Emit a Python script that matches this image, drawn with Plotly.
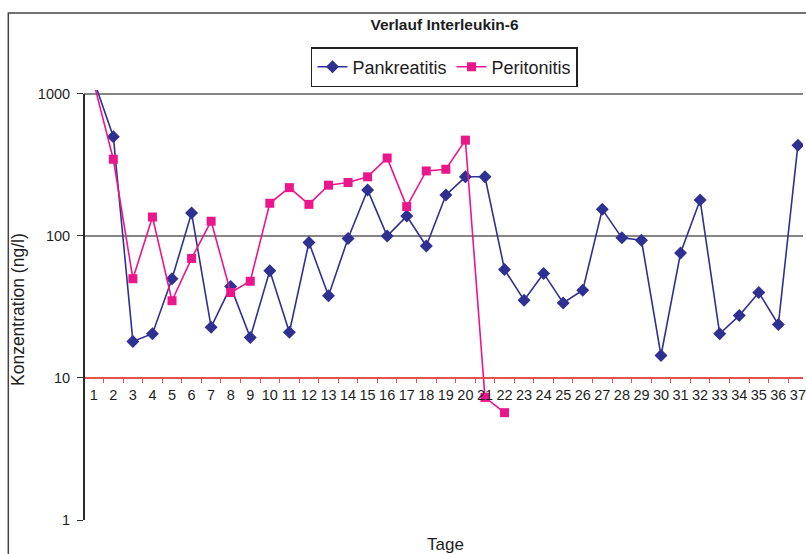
import plotly.graph_objects as go

# Tage 1..37
days = [str(d) for d in range(1, 38)]

# Interleukin-6 Konzentration (ng/l)
pankreatitis = [1250, 500, 18.1, 20.5, 50, 145, 22.8, 44, 19.3, 57, 21, 90,
                38, 96, 211, 100, 138, 85, 194, 261, 261, 58, 35.3, 54.5,
                33.8, 41.5, 154, 97, 93.5, 14.4, 76, 179, 20.5, 27.5, 40,
                23.8, 436]
peritonitis = [1200, 347, 50, 136, 35, 69.5, 127, 40, 48, 170, 219, 167,
               228, 238, 261, 354, 161, 287, 295, 473, 7.3, 5.7]

y_ticks = [1, 10, 100, 1000]
y_ticktext = ["1", "10", "100", "1000"]

FONT = "Liberation Sans, Arial, sans-serif"
TEXT = "#1e1e1e"
BLUE = "#2e3192"
PINK = "#ec168c"
RED = "#e4504c"

y_top = 3.028  # log10 upper limit of the value axis

fig = go.Figure()
fig.add_trace(go.Scatter(
    x=days, y=pankreatitis, name="Pankreatitis", mode="lines+markers",
    line=dict(color=BLUE, width=1.6),
    marker=dict(symbol="diamond", size=10, color=BLUE),
))
fig.add_trace(go.Scatter(
    x=days[:len(peritonitis)], y=peritonitis, name="Peritonitis",
    mode="lines+markers",
    line=dict(color=PINK, width=1.6),
    marker=dict(symbol="square", size=9, color=PINK),
))

fig.update_layout(
    width=806, height=554,
    margin=dict(l=84, r=0, t=90, b=34),
    paper_bgcolor="white", plot_bgcolor="white",
    font=dict(family=FONT, size=14, color=TEXT),
    title=dict(text="<b>Verlauf Interleukin-6</b>", x=(446 - 84) / 722,
               xref="paper", xanchor="center",
               y=1 - 25 / 554, yref="container", yanchor="middle",
               font=dict(size=15.5, color=TEXT)),
    legend=dict(orientation="h", x=(446 - 84) / 722, xanchor="center",
                y=(520 - 47) / 430, yanchor="top",
                bordercolor="#222", borderwidth=1.5,
                bgcolor="white", font=dict(size=18, color=TEXT)),
    showlegend=True,
)

fig.update_xaxes(
    type="category", categoryorder="array", categoryarray=days,
    range=[-0.5, 36.26], anchor="free", position=1 / y_top,
    showline=True, linecolor=RED, linewidth=1.5,
    showgrid=False, zeroline=False,
    tickson="boundaries", ticks="outside", ticklen=4, tickwidth=1.2,
    tickcolor=RED, tickangle=0, tickfont=dict(size=14.5, color=TEXT),
    ticklabelstandoff=4,
)
fig.update_yaxes(
    type="log", range=[0, y_top], tickvals=y_ticks, ticktext=y_ticktext,
    showgrid=True, gridcolor="#858585", gridwidth=1.5,
    showline=False, zeroline=False,
    ticks="outside", ticklen=6, tickwidth=1.2, tickcolor="#333",
    tickfont=dict(size=14.5, color=TEXT), ticklabelstandoff=4,
)

# left value axis from 1 to 1000
fig.add_shape(type="line", xref="paper", yref="paper",
              x0=0, x1=0, y0=0, y1=3 / y_top,
              line=dict(color="#2a2a2a", width=2))
# chart frame
fig.add_shape(type="rect", xref="paper", yref="paper",
              x0=(8 - 84) / 722, x1=1.02, y0=-0.1, y1=(520 - 13) / 430,
              line=dict(color="#444", width=1.5), fillcolor="rgba(0,0,0,0)")

fig.add_annotation(text="Konzentration (ng/l)", textangle=-90,
                   xref="paper", yref="paper", x=0, y=(520 - 310) / 430,
                   xshift=-66, xanchor="center", yanchor="middle",
                   showarrow=False, font=dict(size=17.5, color=TEXT))
fig.add_annotation(text="Tage", xref="paper", yref="paper",
                   x=(447 - 84) / 722, y=0, yshift=-24,
                   xanchor="center", yanchor="middle",
                   showarrow=False, font=dict(size=17, color=TEXT))

fig.write_html("out.html")
